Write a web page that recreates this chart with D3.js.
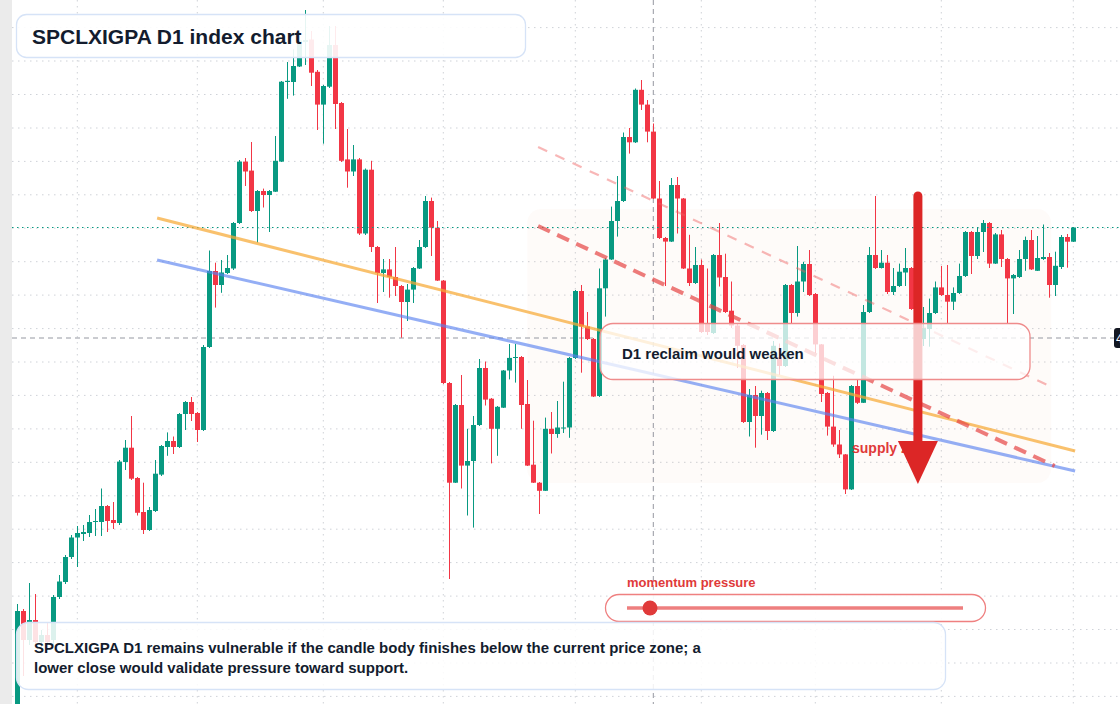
<!DOCTYPE html>
<html><head><meta charset="utf-8">
<script src="https://cdn.jsdelivr.net/npm/d3@7/dist/d3.min.js"></script>
<style>html,body{margin:0;padding:0;background:#fff;overflow:hidden}svg{display:block;font-family:"Liberation Sans",Arial,Helvetica,sans-serif}</style>
</head><body><svg id="c" width="1120" height="704"></svg>
<script>
const opens=[85,189,160,180,158,165,160,203,218,243,262.5,266,267,278,278,294,280,277,338,352.3,322,288,270,289,325.4,353,359,353,386,398,387,370,453,529,515,527,531.5,577,638.4,629.4,589,609,605,608.3,638.4,718,718,733.5,758,760.5,728.2,695.4,713.3,755,697,640.6,628.5,640.6,566.5,630.3,553,527,530.6,523,514,498,510.4,531.5,553,599,572.3,519.4,417,317.3,395,334.4,339,375,432,401.3,371.2,392.3,429.5,442,443,396,335.3,317.3,309.2,371.2,366,372,372.5,442,509,473.5,461,404,511.7,540.5,579,599,663,657.7,710.2,695.4,668.4,601.5,562,558.4,615,601.5,531.5,517,535,477,467,545,523,489.3,474.5,455,378,405,384,407,369,443,434,515,487,518.5,536,506,455.6,407,373.4,355.5,345.6,310.6,414,397.2,488,545,532,537.3,508,514,527.5,532,491,461,471,487,512.6,505,498.3,507,524,568,544,568,577,536.4,565.6,541,521.6,523,541,560,529.2,541,543,515,533,563,558.3];
const highs=[196,191,217,206,170,178,205,225,245,265,274,275,285,291,311.5,295,298,340,360,384,323,317.3,293,340,355,367.6,363.5,387,399,403,388,455,549.5,537.3,540,545,578,640,642,658,610,611.4,610,664,719,738,750.6,768,790,769,730,715,774,774,698,671,655,642,631.5,639.2,554,541,541,553,515,516,533,560,604,602.4,579,520,418,396,425,371.2,384,441,438.5,402,394,430,456,456,444,420,379.3,318,382.4,388,399,418.3,443,510,515,488,462,531.5,542,593.4,624,667.5,672,711.5,720,700,676.5,619,563,622,623,602,565.2,553,540.5,531.5,546,577,546.3,518.5,476,456,411,414,409.3,408,459,456.5,516,516,554,538.2,550,507,456,408,424.2,370,346,415,420,495,553,604,550,545,532,536.4,552,533,495,493,501.4,518.5,534,535,512.6,536.4,569,569,572.3,580,578,567,570,542,526,550,563.4,570,564,575.5,547,548.3,565,566,573];
const lows=[75,124,155,152,150,152,155,201,216,241,233,259,263,264,264,268,271,275,330,320,284.5,266,269,288,324,344.2,346,352,370,379,358,369,452,492.4,507.2,526,530,576,614,588,557.5,592.5,568,608,638,701.2,704.4,733,735,714,670,656.3,712,671,638,612.3,624,565,565,548,497,508,502.3,504,462.3,479,497,531,552,544,519,416,221,317,311.5,284.5,272.4,374,394.5,336.6,344.2,392,420.6,417.4,371.2,334,317,286,309,346.5,362.2,367,362.2,441,427.3,460,403,403,483.4,540,563.4,598,646.4,657,690,657.7,601,561,514,558,566.5,531,514,516,467,465,466,513.5,487,472,432,377,363.5,352.3,365.3,360,368,425,433,476,483.4,508,504,447,398,364.4,353.2,342,306,310,396,397,487,531,531.5,506,505,513,514,490,458,454,453.3,486,504,477,490,506,523,526,541,548,532,536,533,477,486,522,529.2,530,529,540,502.3,504,531,532.3,558];
const closes=[189,160,180,158,165,158,203,218.5,243,262.5,267,268,278,279,294,279,277,338.4,352.3,321.3,287.2,270,290,326.3,354,359,353,386,398,386,370,453,529,515,527.5,532,577,638.4,628.5,589,609,605,609,639.2,718.3,719.2,734,759.6,760,727.3,695.4,714,755,696,639.2,628.5,640.6,566.5,630.3,553,527,530.6,523,514,498,510.4,532,553,599,572.3,519.4,417,317.3,395,334.4,339,375,432,400.4,371.2,393.2,429.5,442.1,443,395,334.4,317.3,309.2,371.2,366,372.5,372.5,442,509,473.5,461,403.5,511.7,540.5,579,599,663,657.7,710.2,695.4,668.4,601.5,562,558.4,615,601.5,531.5,517,535,468,468,545,522.5,488,474.5,454.2,378,405,384,407,369,454.2,434,515,487,518.5,536,505,455.6,406,373.4,355.5,345.6,310.6,414,397.2,488,545,532,537.3,508,514,528.3,532,491,461,472,487,512.6,505,498.3,507,524,568,544,568,577,536.4,565.6,541,521.6,525,541,560,530.6,542,543,515,534.2,563,558.3,572.5];
const gridLevels=[772.4,739,705.5,672,638.6,605.2,571.8,538.3,504.9,471.4,438,404.6,371.1,337.7,304.2,270.8,237.4,203.9,170.5,137,103.6];
const gridBars=[10,30,51,71,93,114,133,154,176];
const lastPrice=572.5, crossPrice=462, crossBar=106;
// annotation levels: [barStart, priceStart, barEnd, priceEnd]
const orangeLine=[23.3,582,176.3,349];
const blueLine=[23.3,540,176.3,329];
const redDashed=[86.8,574,172.9,334];
const redDashedThin=[86.8,653,172.4,413];
const zone=[85,591,172.3,317];
const arrowLevels=[150.1,604,316];
const titleText="SPCLXIGPA D1 index chart";
const noteLines=["SPCLXIGPA D1 remains vulnerable if the candle body finishes below the current price zone; a","lower close would validate pressure toward support."];

const svg=d3.select("#c");
const W=1120,H=704;
const x=d3.scaleLinear().domain([0,176]).range([17.3,1073.3]);
const y=d3.scaleLinear().domain([0,800]).range([800,0]);
const UP="#089981",DN="#f23645";
const font='"Liberation Sans",Arial,Helvetica,sans-serif';

svg.append("rect").attr("width",W).attr("height",H).attr("fill","#fff");
svg.append("rect").attr("x",0).attr("y",0).attr("width",12).attr("height",H).attr("fill","#ebebeb");

// grid
const g=svg.append("g");
g.selectAll(".hg").data(gridLevels).join("line").attr("x1",12).attr("x2",W)
 .attr("y1",d=>y(d)).attr("y2",d=>y(d)).attr("stroke","#cfd2d8").attr("stroke-dasharray","1.5 4.5");
g.selectAll(".vg").data(gridBars).join("line").attr("y1",0).attr("y2",H)
 .attr("x1",d=>x(d)).attr("x2",d=>x(d)).attr("stroke","#cfd2d8").attr("stroke-dasharray","1.5 4.5");

// zone
svg.append("rect").attr("x",x(zone[0])).attr("y",y(zone[1])).attr("width",x(zone[2])-x(zone[0]))
 .attr("height",y(zone[3])-y(zone[1])).attr("rx",14).attr("fill","#e8a070").attr("fill-opacity",0.045);

// crosshair
svg.append("line").attr("x1",x(crossBar)).attr("x2",x(crossBar)).attr("y1",0).attr("y2",H)
 .attr("stroke","#9598a1").attr("stroke-dasharray","5 4");
svg.append("line").attr("x1",12).attr("x2",1114).attr("y1",y(crossPrice)).attr("y2",y(crossPrice))
 .attr("stroke","#9598a1").attr("stroke-dasharray","5 4");

// candles
const data=d3.range(opens.length).map(i=>({i,o:opens[i],h:highs[i],l:lows[i],c:closes[i]}));
const cg=svg.append("g");
cg.selectAll(".w").data(data).join("line").attr("x1",d=>Math.round(x(d.i))+0.5).attr("x2",d=>Math.round(x(d.i))+0.5)
 .attr("y1",d=>y(d.h)).attr("y2",d=>y(d.l)).attr("stroke",d=>d.c>=d.o?UP:DN).attr("stroke-width",1);
cg.selectAll(".b").data(data).join("rect").attr("x",d=>Math.round(x(d.i))-2).attr("width",5)
 .attr("y",d=>y(Math.max(d.o,d.c))).attr("height",d=>Math.max(1,Math.abs(y(d.o)-y(d.c))))
 .attr("fill",d=>d.c>=d.o?UP:DN);

// price line
svg.append("line").attr("x1",12).attr("x2",W).attr("y1",y(lastPrice)).attr("y2",y(lastPrice))
 .attr("stroke",UP).attr("stroke-dasharray","1.5 3.5");

// trend lines
function seg(a,color,w,op,dash){
 const l=svg.append("line").attr("x1",x(a[0])).attr("y1",y(a[1])).attr("x2",x(a[2])).attr("y2",y(a[3]))
  .attr("stroke",color).attr("stroke-width",w).attr("stroke-opacity",op);
 if(dash) l.attr("stroke-dasharray",dash);
}
seg(orangeLine,"#f6a935",3,0.72);
seg(blueLine,"#5b82f0",3,0.65);
seg(redDashedThin,"#ef5f5f",2.2,0.45,"10 9");
seg(redDashed,"#e64545",4,0.7,"13 8");

// supply zone label
svg.append("text").attr("x",852).attr("y",453).attr("font-family",font).attr("font-weight","bold")
 .attr("font-size",14).attr("fill","#e03a3a").text("supply zone");

// arrow
const ax=x(arrowLevels[0]);
svg.append("line").attr("x1",ax).attr("x2",ax).attr("y1",y(arrowLevels[1])).attr("y2",y(arrowLevels[2])-40)
 .attr("stroke","#dc2626").attr("stroke-width",9).attr("stroke-linecap","round");
svg.append("path").attr("d",`M${ax-20},${y(arrowLevels[2])-43}L${ax+20},${y(arrowLevels[2])-43}L${ax},${y(arrowLevels[2])}Z`)
 .attr("fill","#dc2626");

// reclaim box
svg.append("rect").attr("x",600).attr("y",323.5).attr("width",430).attr("height",56).attr("rx",13)
 .attr("fill","#fff").attr("fill-opacity",0.76).attr("stroke","#ef8c8c").attr("stroke-width",1.3);
svg.append("text").attr("x",622).attr("y",359).attr("font-family",font).attr("font-weight","bold")
 .attr("font-size",15).attr("fill","#131c2e").text("D1 reclaim would weaken");

// title box
svg.append("rect").attr("x",16.5).attr("y",14.5).attr("width",509).attr("height",43).attr("rx",10)
 .attr("fill","#fff").attr("fill-opacity",0.9).attr("stroke","#d6e3f7").attr("stroke-width",1.3);
svg.append("text").attr("x",32).attr("y",43.5).attr("font-family",font).attr("font-weight","bold")
 .attr("font-size",21).attr("fill","#131c2e").text(titleText);

// momentum
svg.append("text").attr("x",627).attr("y",587).attr("font-family",font).attr("font-weight","bold")
 .attr("font-size",13).attr("fill","#e03a3a").text("momentum pressure");
svg.append("rect").attr("x",605.5).attr("y",594.5).attr("width",380).attr("height",27).attr("rx",13.5)
 .attr("fill","#fff").attr("fill-opacity",0.92).attr("stroke","#ef8080").attr("stroke-width",1.3);
svg.append("line").attr("x1",627).attr("x2",963).attr("y1",608).attr("y2",608)
 .attr("stroke","#ee7f7f").attr("stroke-width",3.5);
svg.append("circle").attr("cx",650).attr("cy",608).attr("r",7.5).attr("fill","#e03a3a");

// bottom note box
svg.append("rect").attr("x",16.5).attr("y",622.5).attr("width",929).attr("height",67).attr("rx",12)
 .attr("fill","#fff").attr("fill-opacity",0.86).attr("stroke","#d6e3f7").attr("stroke-width",1.3);
svg.selectAll(".note").data(noteLines).join("text").attr("x",34).attr("y",(d,i)=>653+i*20)
 .attr("font-family",font).attr("font-weight","bold").attr("font-size",15).attr("fill","#131c2e").text(d=>d);

// crosshair price label (clipped at the right edge, as in the reference)
svg.append("rect").attr("x",1114).attr("y",y(crossPrice)-10).attr("width",60).attr("height",20).attr("rx",3).attr("fill","#131722");
svg.append("text").attr("x",1116).attr("y",y(crossPrice)+4.5).attr("font-family",font).attr("font-size",12)
 .attr("fill","#fff").text(crossPrice.toFixed(2));
</script></body></html>
